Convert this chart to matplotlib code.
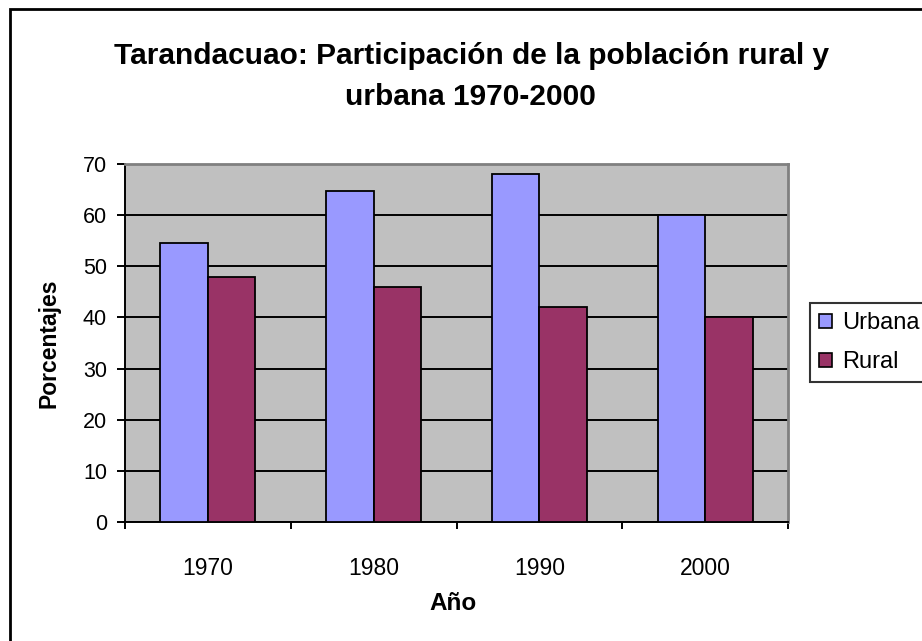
import matplotlib
matplotlib.use("Agg")
import matplotlib.pyplot as plt
from matplotlib.patches import Rectangle
import numpy as np

plt.rcParams['font.family'] = ['Liberation Sans', 'DejaVu Sans']

years = ["1970", "1980", "1990", "2000"]
urbana = [54.6, 64.8, 68.0, 60.0]
rural = [48.0, 46.0, 42.0, 40.0]
series_names = ["Urbana", "Rural"]
colors = ["#9999FF", "#993366"]
title_lines = ["Tarandacuao: Participación de la población rural y", "urbana 1970-2000"]

W, H = 922, 641
fig = plt.figure(figsize=(W / 100, H / 100), dpi=100)
fig.patch.set_facecolor("white")

# outer chart border (right and bottom sides fall outside the image)
fig.patches.append(Rectangle((10 / W, -5 / H), (W + 10) / W, (H - 4) / H,
                             transform=fig.transFigure, fill=False,
                             edgecolor="black", linewidth=2))

L, R, T, B = 125, 788, 164, 522
ax = fig.add_axes([L / W, 1 - B / H, (R - L) / W, (B - T) / H])
ax.set_facecolor("#C0C0C0")

x = np.arange(len(years)) + 0.5
bw = 0.286
ax.bar(x - bw / 2, urbana, bw, color=colors[0], edgecolor="black", linewidth=1.3,
       label=series_names[0], zorder=3)
ax.bar(x + bw / 2, rural, bw, color=colors[1], edgecolor="black", linewidth=1.3,
       label=series_names[1], zorder=3)

ax.set_xlim(0, len(years))
ax.set_ylim(0, 70)
ax.set_yticks(range(0, 71, 10))
ax.yaxis.grid(True, color="black", linewidth=1.4, zorder=1)
ax.set_axisbelow(True)

ax.set_xticks(np.arange(len(years) + 1))
ax.set_xticklabels([])
ax.set_xticks(x, minor=True)
ax.set_xticklabels(years, minor=True)
ax.tick_params(axis="x", which="minor", length=0, pad=25, labelsize=16.5)
ax.tick_params(axis="x", which="major", length=5, width=1.4, direction="out")
ax.tick_params(axis="y", length=6, width=1.4, direction="out", labelsize=15.5, pad=7)

for s in ["left", "bottom"]:
    ax.spines[s].set_color("black")
    ax.spines[s].set_linewidth(1.4)
for s in ["top", "right"]:
    ax.spines[s].set_color("#808080")
    ax.spines[s].set_linewidth(2)

fig.text(453 / W, 1 - 604 / H, "Año", ha="center", va="center",
         fontsize=17.5, fontweight="bold")
fig.text(49 / W, 1 - 343 / H, "Porcentajes", ha="center", va="center",
         rotation=90, fontsize=16.5, fontweight="bold")

fig.text(472 / W, 1 - 56 / H, title_lines[0], ha="center", va="center",
         fontsize=21.5, fontweight="bold")
fig.text(470 / W, 1 - 97 / H, title_lines[1], ha="center", va="center",
         fontsize=21.5, fontweight="bold")

leg = fig.legend(loc="upper left", bbox_to_anchor=(810 / W, 1 - 303 / H),
                 fontsize=17, frameon=True, fancybox=False, handlelength=0.55,
                 handleheight=0.55, handletextpad=0.4, borderpad=0.4,
                 labelspacing=0.7, borderaxespad=0)
leg.get_frame().set_edgecolor("black")
leg.get_frame().set_linewidth(1.5)
for h in leg.legend_handles:
    h.set_edgecolor("black")
    h.set_linewidth(1.2)

fig.savefig("out.png", dpi=100)
